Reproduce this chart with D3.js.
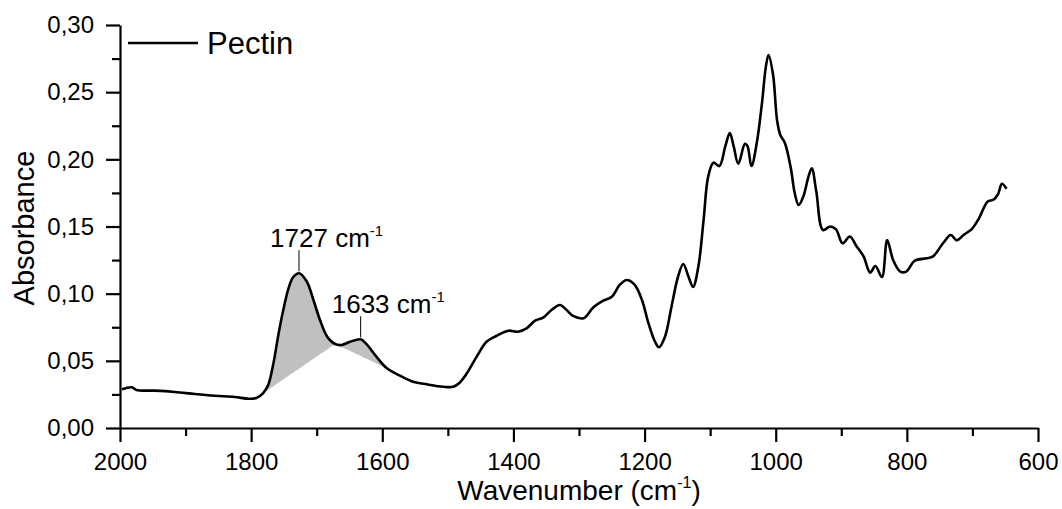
<!DOCTYPE html>
<html>
<head>
<meta charset="utf-8">
<script src="https://cdn.jsdelivr.net/npm/d3@7"></script>
<style>
  html, body { margin: 0; padding: 0; background: #fff; }
  svg { display: block; font-family: "Liberation Sans", Arial, sans-serif; }
</style>
</head>
<body>
<svg id="chart" width="1062" height="509"></svg>
<script>
// ---------- data ----------
const wavenumber = [1997,1982,1975,1947,1916,1886,1855,1825,1804,1792,
  1782,1774,1766,1759,1751,1743,1736,1727,1715,1705,
  1695,1684,1672,1662,1649,1633,1624,1609,1593,1573,
  1553,1532,1507,1492,1482,1471,1456,1441,1426,1408,
  1393,1380,1367,1354,1342,1329,1319,1309,1293,1278,
  1263,1250,1238,1227,1215,1204,1194,1184,1178,1169,
  1159,1149,1141,1133,1126,1118,1110,1103,1095,1086,
  1077,1070,1064,1057,1047,1043,1037,1029,1021,1015,
  1011,1004,998,993,986,977,971,965,958,950,
  945,938,928,917,908,898,887,877,866,856,
  848,838,830,821,810,801,788,770,760,744,
  733,724,713,701,690,677,668,661,655,648];
const absorbance = [0.0288,0.0303,0.0283,0.0278,0.0268,0.0253,0.0240,0.0231,0.0218,0.0223,
  0.0258,0.0320,0.0482,0.0680,0.0878,0.1040,0.1122,0.1152,0.1089,0.0953,
  0.0804,0.0680,0.0625,0.0618,0.0642,0.0660,0.0625,0.0531,0.0444,0.0390,
  0.0345,0.0325,0.0307,0.0307,0.0337,0.0407,0.0531,0.0642,0.0685,0.0724,
  0.0717,0.0742,0.0799,0.0824,0.0878,0.0916,0.0878,0.0834,0.0817,0.0899,
  0.0948,0.0977,0.1065,0.1102,0.1065,0.0953,0.0779,0.0642,0.0601,0.0677,
  0.0901,0.1126,0.1221,0.1126,0.1050,0.1201,0.1548,0.1871,0.1975,0.1950,
  0.2094,0.2196,0.2094,0.1967,0.2116,0.2099,0.1950,0.2119,0.2417,0.2690,
  0.2777,0.2628,0.2293,0.2181,0.2122,0.1935,0.1749,0.1660,0.1722,0.1871,
  0.1933,0.1757,0.1474,0.1500,0.1478,0.1375,0.1426,0.1355,0.1277,0.1156,
  0.1206,0.1124,0.1399,0.1251,0.1164,0.1164,0.1245,0.1263,0.1278,0.1381,
  0.1437,0.1397,0.1439,0.1481,0.1561,0.1685,0.1699,0.1740,0.1818,0.1781];

const seriesName = "Pectin";
const xTicks = [2000, 1800, 1600, 1400, 1200, 1000, 800, 600];
const xMinorTicks = [1900, 1700, 1500, 1300, 1100, 900, 700];
const yTicks = [0, 0.05, 0.10, 0.15, 0.20, 0.25, 0.30];
const yTickLabels = ["0,00", "0,05", "0,10", "0,15", "0,20", "0,25", "0,30"];
const yMinorTicks = [0.025, 0.075, 0.125, 0.175, 0.225, 0.275];
const bandStart = [1782, 1672];
const bandEnd = [1672, 1593];
const peakLabels = [1727, 1633];
const xTitle = "Wavenumber (cm";
const yTitle = "Absorbance";

// ---------- layout ----------
const svg = d3.select("#chart");
const x = d3.scaleLinear().domain([2000, 600]).range([120, 1038]);
const y = d3.scaleLinear().domain([0, 0.30]).range([428, 25]);
const data = wavenumber.map((w, i) => ({ w, a: absorbance[i] }));
const curve = d3.curveCatmullRom.alpha(0.5);

// shaded bands (between curve and straight chord)
bandStart.forEach((s, k) => {
  const e = bandEnd[k];
  const seg = data.filter(d => d.w <= s && d.w >= e);
  const p0 = seg[0], p1 = seg[seg.length - 1];
  const chord = w => p0.a + (p1.a - p0.a) * (w - p0.w) / (p1.w - p0.w);
  svg.append("path")
    .datum(seg)
    .attr("fill", "#c0c0c0")
    .attr("stroke", "none")
    .attr("d", d3.area().curve(curve)
      .x(d => x(d.w)).y0(d => y(chord(d.w))).y1(d => y(d.a)));
});

// axes
const gx = svg.append("g").attr("transform", "translate(0,428)")
  .call(d3.axisBottom(x).tickValues(xTicks).tickSize(14).tickSizeOuter(0).tickPadding(11)
    .tickFormat(d3.format("d")));
const gxm = svg.append("g").attr("transform", "translate(0,428)")
  .call(d3.axisBottom(x).tickValues(xMinorTicks).tickSize(8).tickSizeOuter(0).tickFormat(""));
const gy = svg.append("g").attr("transform", "translate(120,0)")
  .call(d3.axisLeft(y).tickValues(yTicks).tickSize(14).tickSizeOuter(0).tickPadding(12)
    .tickFormat((d, i) => yTickLabels[i]));
const gym = svg.append("g").attr("transform", "translate(120,0)")
  .call(d3.axisLeft(y).tickValues(yMinorTicks).tickSize(8).tickSizeOuter(0).tickFormat(""));
[gx, gxm, gy, gym].forEach(g => {
  g.selectAll("path, line").attr("stroke", "#000").attr("stroke-width", 2.2);
  g.selectAll("text").attr("fill", "#000").style("font-size", "24px")
    .style("font-family", "'Liberation Sans', Arial, sans-serif");
});
gxm.select(".domain").remove();
gym.select(".domain").remove();

// spectrum line
svg.append("path").datum(data)
  .attr("fill", "none").attr("stroke", "#000").attr("stroke-width", 2.6)
  .attr("stroke-linejoin", "round")
  .attr("d", d3.line().curve(curve).x(d => x(d.w)).y(d => y(d.a)));

// peak annotations
const annoFont = 26;
const labelLift = [26, 26];
peakLabels.forEach((p, k) => {
  const d = data.find(v => v.w === p);
  const px = x(d.w), py = y(d.a);
  svg.append("line").attr("x1", px).attr("x2", px)
    .attr("y1", py - 2).attr("y2", py - 23)
    .attr("stroke", "#000").attr("stroke-width", 1);
  const t = svg.append("text").attr("y", py - labelLift[k])
    .style("font-size", annoFont + "px").attr("fill", "#000");
  const num = t.append("tspan").text(String(p));
  const nw = num.node().getComputedTextLength();
  t.attr("x", px - nw / 2);
  t.append("tspan").text(" cm");
  t.append("tspan").text("-1").style("font-size", "15px").attr("dy", -11);
});

// legend
svg.append("line").attr("x1", 128).attr("x2", 198).attr("y1", 43).attr("y2", 43)
  .attr("stroke", "#000").attr("stroke-width", 2.4);
svg.append("text").attr("x", 207).attr("y", 54).style("font-size", "31px")
  .attr("fill", "#000").text(seriesName);

// axis titles
const xt = svg.append("text").attr("x", 579).attr("y", 500)
  .attr("text-anchor", "middle").style("font-size", "28px").attr("fill", "#000");
xt.append("tspan").text(xTitle);
xt.append("tspan").text("-1").style("font-size", "16px").attr("dy", -12);
xt.append("tspan").text(")").attr("dy", 12);

svg.append("text").attr("transform", "translate(34,228) rotate(-90)")
  .attr("text-anchor", "middle").style("font-size", "29px").attr("fill", "#000")
  .text(yTitle);
</script>
</body>
</html>
